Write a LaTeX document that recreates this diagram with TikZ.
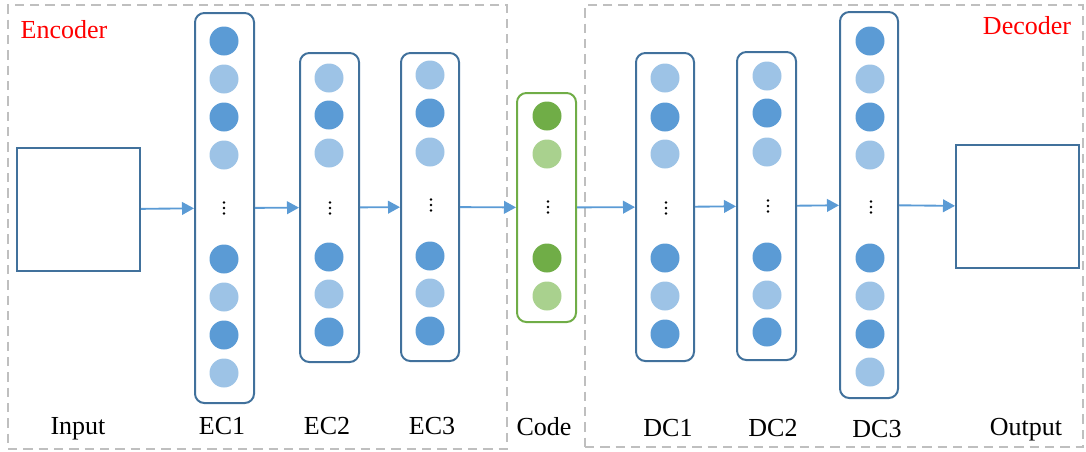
\documentclass[tikz,border=0pt]{standalone}
\usepackage{fontspec}
\setmainfont{Liberation Serif}
\usetikzlibrary{arrows.meta,fit}
\definecolor{dkblue}{HTML}{5B9BD5}
\definecolor{ltblue}{HTML}{9DC3E6}
\definecolor{edgeblue}{HTML}{41719C}
\definecolor{dkgreen}{HTML}{70AD47}
\definecolor{ltgreen}{HTML}{A9D18E}
\definecolor{dashgray}{HTML}{BFBFBF}
\definecolor{lblred}{HTML}{FF0000}
\newcommand{\dotcol}[3]{%
  \coordinate (#1) at (#2,#3);
  \fill[black] (#1) ++(0,-5.5) circle[radius=1.4] (#1) circle[radius=1.4] (#1) ++(0,5.5) circle[radius=1.4];}
\begin{document}
\begin{tikzpicture}[x=0.75pt,y=-0.75pt,
  dashbox/.style={draw=dashgray,line width=1.4pt,dash pattern=on 7pt off 4.5pt,inner sep=0pt},
  layer/.style={draw=edgeblue,line width=1.5pt,rounded corners=7pt,inner sep=0pt},
  codelayer/.style={draw=dkgreen,line width=1.5pt,rounded corners=7pt,inner sep=0pt},
  iobox/.style={draw=edgeblue,line width=1.5pt,inner sep=0pt},
  neuron/.style={circle,minimum size=21.75pt,inner sep=0pt,draw=none},
  dk/.style={neuron,fill=dkblue},
  lt/.style={neuron,fill=ltblue},
  dg/.style={neuron,fill=dkgreen},
  lg/.style={neuron,fill=ltgreen},
  lbl/.style={font=\fontsize{19.5}{23}\selectfont,inner sep=0pt,anchor=base},
  title/.style={font=\fontsize{19.5}{23}\selectfont,text=lblred,inner sep=0pt},
  arr/.style={draw=dkblue,line width=1.4pt,-{Triangle[length=9pt,width=9.5pt]}}
]
\useasboundingbox (0,0) rectangle (1086,451);

% dashed groups
\node[dashbox,fit={(8,5)(507,449)}] (enc) {};
\node[dashbox,fit={(585,5)(1083,447)}] (dec) {};
\node[title] (enctitle) at (64,30) {Encoder};
\node[title] (dectitle) at (1027,26) {Decoder};

% input / output
\node[iobox,fit={(17,148)(140,271)}] (in) {};
\node[iobox,fit={(956,145)(1079,268)}] (out) {};

% EC1
\node[layer,fit={(195,13)(254,403)}] (ec1) {};
\node[dk] (ec1a) at (224,41) {};
\node[lt] (ec1b) at (224,79) {};
\node[dk] (ec1c) at (224,117) {};
\node[lt] (ec1d) at (224,155) {};
\dotcol{ec1v}{224}{208}
\node[dk] (ec1e) at (224,259) {};
\node[lt] (ec1f) at (224,297) {};
\node[dk] (ec1g) at (224,335) {};
\node[lt] (ec1h) at (224,373) {};

% EC2
\node[layer,fit={(300,53)(359,362)}] (ec2) {};
\node[lt] (ec2a) at (329,78) {};
\node[dk] (ec2b) at (329,115) {};
\node[lt] (ec2c) at (329,153) {};
\dotcol{ec2v}{330}{208}
\node[dk] (ec2d) at (329,257) {};
\node[lt] (ec2e) at (329,294) {};
\node[dk] (ec2f) at (329,332) {};

% EC3
\node[layer,fit={(401,53)(459,361)}] (ec3) {};
\node[lt] (ec3a) at (430,75) {};
\node[dk] (ec3b) at (430,113) {};
\node[lt] (ec3c) at (430,152) {};
\dotcol{ec3v}{431}{205}
\node[dk] (ec3d) at (430,256) {};
\node[lt] (ec3e) at (430,293) {};
\node[dk] (ec3f) at (430,331) {};

% Code
\node[codelayer,fit={(517,93)(576,322)}] (code) {};
\node[dg] (codea) at (547,116) {};
\node[lg] (codeb) at (547,154) {};
\dotcol{codev}{548}{207}
\node[dg] (codec) at (547,258) {};
\node[lg] (coded) at (547,296) {};

% DC1
\node[layer,fit={(636,53)(694,361)}] (dc1) {};
\node[lt] (dc1a) at (665,78) {};
\node[dk] (dc1b) at (665,117) {};
\node[lt] (dc1c) at (665,154) {};
\dotcol{dc1v}{666}{208}
\node[dk] (dc1d) at (665,258) {};
\node[lt] (dc1e) at (665,296) {};
\node[dk] (dc1f) at (665,334) {};

% DC2
\node[layer,fit={(737,52)(796,360)}] (dc2) {};
\node[lt] (dc2a) at (767,76) {};
\node[dk] (dc2b) at (767,113) {};
\node[lt] (dc2c) at (767,152) {};
\dotcol{dc2v}{768}{206}
\node[dk] (dc2d) at (767,257) {};
\node[lt] (dc2e) at (767,295) {};
\node[dk] (dc2f) at (767,332) {};

% DC3
\node[layer,fit={(840,12)(898,398)}] (dc3) {};
\node[dk] (dc3a) at (870,41) {};
\node[lt] (dc3b) at (870,79) {};
\node[dk] (dc3c) at (870,117) {};
\node[lt] (dc3d) at (870,155) {};
\dotcol{dc3v}{871}{207}
\node[dk] (dc3e) at (870,258) {};
\node[lt] (dc3f) at (870,296) {};
\node[dk] (dc3g) at (870,334) {};
\node[lt] (dc3h) at (870,372) {};

% connectors
\draw[arr] (in) -- (ec1);
\draw[arr] (ec1) -- (ec2);
\draw[arr] (ec2) -- (ec3);
\draw[arr] (ec3) -- (code);
\draw[arr] (code) -- (dc1);
\draw[arr] (dc1) -- (dc2);
\draw[arr] (dc2) -- (dc3);
\draw[arr] (dc3) -- (out);

% labels
\node[lbl] (lin) at (78,434) {Input};
\node[lbl] (lec1) at (222,434) {EC1};
\node[lbl] (lec2) at (327,434) {EC2};
\node[lbl] (lec3) at (432,434) {EC3};
\node[lbl] (lcode) at (544,435) {Code};
\node[lbl] (ldc1) at (668,436) {DC1};
\node[lbl] (ldc2) at (773,436) {DC2};
\node[lbl] (ldc3) at (877,437) {DC3};
\node[lbl] (lout) at (1026,435) {Output};
\end{tikzpicture}
\end{document}
